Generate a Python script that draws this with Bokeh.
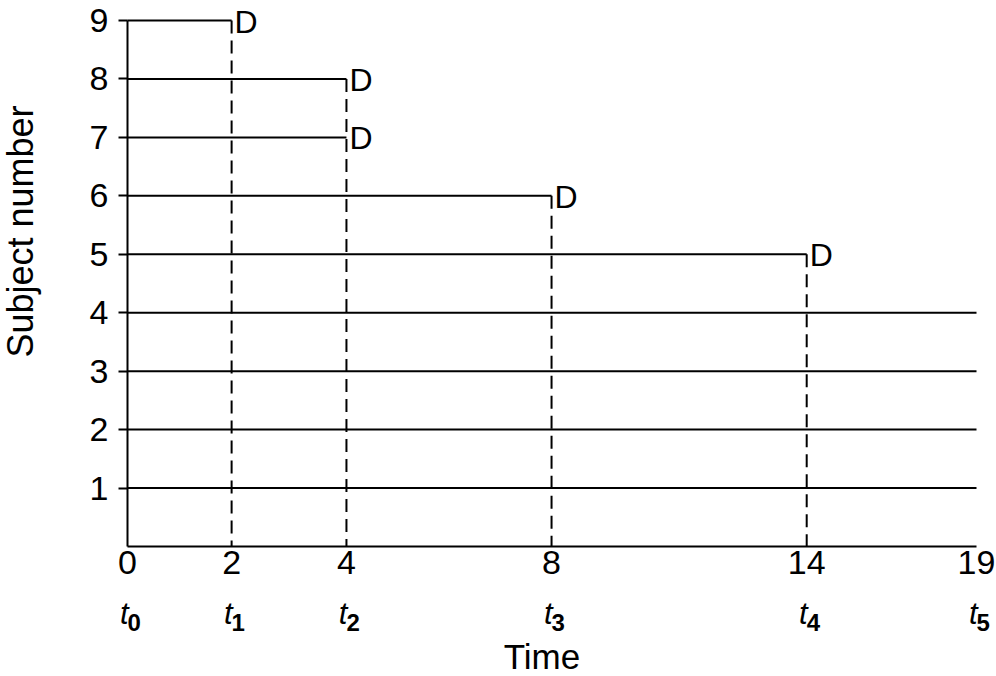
import numpy as np
from bokeh.plotting import figure
from bokeh.models import FixedTicker, Range1d
from bokeh.embed import file_html
from bokeh.resources import INLINE
from bokeh.core.properties import value

# ---- data ----
subjects = [1, 2, 3, 4, 5, 6, 7, 8, 9]
end_times = [19, 19, 19, 19, 14, 8, 4, 4, 2]
died = [0, 0, 0, 0, 1, 1, 1, 1, 1]
time_ticks = [0, 2, 4, 8, 14, 19]
time_tick_labels = ["0", "2", "4", "8", "14", "19"]
t_subscripts = ["0", "1", "2", "3", "4", "5"]
subject_ticks = [1, 2, 3, 4, 5, 6, 7, 8, 9]

# schematic (not-to-scale) axis: where each time tick sits along the axis
axis_pos = [0, 2.33, 4.9, 9.49, 15.2, 19]


def tpos(t):
    return np.interp(t, time_ticks, axis_pos)


FONT = "Liberation Sans"
W, H = 996, 676
# canvas pixel layout of the axes box
X0_PX, X1_PX = 127, 976      # x = 0 and x = 19
Y0_PX, Y9_PX = 546, 20       # y = 0 and y = 9 (from top)
xu = (X1_PX - X0_PX) / (axis_pos[-1] - axis_pos[0])
yu = (Y0_PX - Y9_PX) / 9.0

p = figure(width=W, height=H, output_backend="svg", toolbar_location=None,
           x_range=Range1d(-X0_PX / xu, axis_pos[-1] + (W - X1_PX) / xu),
           y_range=Range1d(-(H - Y0_PX) / yu, 9 + Y9_PX / yu),
           min_border=0)
p.outline_line_color = None
p.grid.visible = False
p.background_fill_color = "white"
p.border_fill_color = "white"

# horizontal follow-up lines
start = np.full(len(subjects), tpos(time_ticks[0]))
p.segment(x0=start, y0=subjects, x1=tpos(end_times), y1=subjects,
          line_color="black", line_width=2)

# dashed drop lines at each death time
ev_t = sorted(set(t for t, d in zip(end_times, died) if d))
ev_top = [max(s for s, t, d in zip(subjects, end_times, died) if d and t == et) for et in ev_t]
p.segment(x0=tpos(ev_t), y0=ev_top, x1=tpos(ev_t), y1=np.zeros(len(ev_t)),
          line_color="black", line_width=2, line_dash="13 7")

# D markers
dx = [tpos(t) for t, d in zip(end_times, died) if d]
dy = [s for s, d in zip(subjects, died) if d]
p.text(x=dx, y=dy, text=["D"] * len(dx), text_font=value(FONT), text_font_size="32px",
       text_align="left", text_baseline="middle", x_offset=3, y_offset=1,
       text_color="black")

# axes
xa = p.xaxis[0]
xa.fixed_location = 0
xa.bounds = (axis_pos[0], axis_pos[-1])
xa.ticker = FixedTicker(ticks=axis_pos)
xa.major_label_overrides = {pos: lab for pos, lab in zip(axis_pos, time_tick_labels)}
xa.major_tick_out = 0
xa.major_tick_in = 0
xa.minor_tick_out = 0
xa.minor_tick_in = 0
xa.axis_line_width = 2
xa.axis_line_color = "black"
xa.major_label_text_font = FONT
xa.major_label_text_font_size = "34px"
xa.major_label_text_color = "black"
xa.major_label_standoff = 4

ya = p.yaxis[0]
ya.fixed_location = 0
ya.ticker = FixedTicker(ticks=subject_ticks)
ya.bounds = (0, 9)
ya.major_tick_out = 9
ya.major_tick_in = 0
ya.minor_tick_out = 0
ya.minor_tick_in = 0
ya.major_tick_line_width = 2
ya.major_tick_line_color = "black"
ya.axis_line_width = 2
ya.axis_line_color = "black"
ya.major_label_text_font = FONT
ya.major_label_text_font_size = "34px"
ya.major_label_text_color = "black"
ya.major_label_standoff = 10

# t_i labels under the time ticks
n = len(axis_pos)
p.text(x=axis_pos, y=[0] * n, text=["t"] * n, text_font=value(FONT),
       text_font_size="31px", text_font_style="italic", text_align="right",
       text_baseline="alphabetic", x_offset=1, y_offset=67, text_color="black")
p.text(x=axis_pos, y=[0] * n, text=t_subscripts, text_font=value(FONT),
       text_font_size="24px", text_font_style="bold", text_align="left",
       text_baseline="alphabetic", x_offset=0, y_offset=76, text_color="black")

# axis titles
p.text(x=[(axis_pos[0] + axis_pos[-1]) / 2], y=[0], text=["Time"], text_font=value(FONT),
       text_font_size="35px", text_align="center", text_baseline="alphabetic",
       x_offset=-10, y_offset=110, text_color="black")
p.text(x=[0], y=[5.39], text=["Subject number"], text_font=value(FONT),
       text_font_size="36px", text_align="center", text_baseline="middle",
       angle=np.pi / 2, x_offset=-107, text_color="black")

open("out.html", "w").write(file_html(p, INLINE))
